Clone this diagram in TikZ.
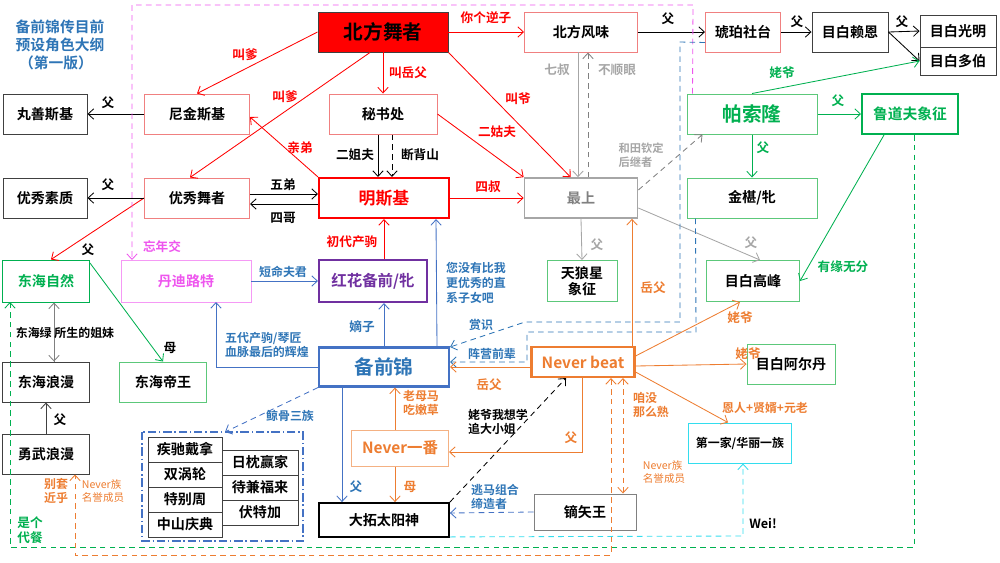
\documentclass[tikz,border=0pt]{standalone}
\usepackage{fontspec}
\setmainfont{Noto Sans CJK SC}[BoldFont={Noto Sans CJK SC Bold}]
\usetikzlibrary{calc,positioning,arrows.meta}
\definecolor{cred}{HTML}{FF0000}
\definecolor{lred}{HTML}{F08080}
\definecolor{corange}{HTML}{ED7D31}
\definecolor{cblue}{HTML}{4472C4}
\definecolor{tblue}{HTML}{2E75B6}
\definecolor{cgreen}{HTML}{00B050}
\definecolor{lgreen}{HTML}{5CC87A}
\definecolor{cpurple}{HTML}{7030A0}
\definecolor{cpink}{HTML}{EE55EE}
\definecolor{cgray}{HTML}{A6A6A6}
\definecolor{ccyan}{HTML}{33DDEE}

\tikzset{
  >={Straight Barb[length=1.4mm,width=2.6mm]},
  sz/.style 2 args={minimum width=#1*0.025cm, minimum height=#2*0.025cm},
  box/.style={draw, line width=0.7pt, align=center, inner sep=1pt, font=\bfseries\fontsize{10}{12}\selectfont},
  blk/.style={box, draw=black!75},
  rbox/.style={box, draw=lred},
  gbox/.style={box, draw=lgreen},
  big/.style={font=\bfseries\fontsize{14}{16}\selectfont},
  lab/.style={inner sep=0pt, align=left, font=\bfseries\fontsize{9}{11}\selectfont},
  arr/.style={->, line width=0.6pt},
  dsh/.style={dash pattern=on 4pt off 3pt},
}

\begin{document}
\begin{tikzpicture}[x=0.025cm, y=-0.025cm]
  \useasboundingbox (0,0) rectangle (1000,562);

  % title
  \node[lab, text=tblue, align=left, font=\bfseries\fontsize{10.5}{13}\selectfont] (title) at (60,45) {备前锦传目前\\预设角色大纲\\\ （第一版）};

  % top row
  \node[blk, sz={130}{40}, fill=cred, big] (bfwz) at (383,32) {北方舞者};
  \node[rbox, sz={113}{40}] (bfws) at (581,32) {北方风味};
  \node[rbox, sz={75}{40}] (hpst) at (743,32) {琥珀社台};
  \node[blk, sz={76}{40}] (mbla) at (850,32) {目白赖恩};
  \node[blk, sz={76}{32}] (mbgm) at (958,31) {目白光明};
  \node[blk, sz={76}{28}] (mbdb) at (958,61) {目白多伯};

  % second row
  \node[blk, sz={84}{40}] (wsj) at (45,114) {丸善斯基};
  \node[rbox, sz={105}{40}] (njsj) at (197,114) {尼金斯基};
  \node[rbox, sz={108}{40}] (msc) at (383,114) {秘书处};
  \node[gbox, sz={130}{40}, text=cgreen, big] (psl) at (752,114) {帕索隆};
  \node[box, draw=cgreen, line width=1.4pt, sz={96}{40}, text=cgreen, font=\bfseries\fontsize{10.5}{12}\selectfont] (ldf) at (910,114) {鲁道夫象征};

  % third row
  \node[blk, sz={84}{40}] (yxsz) at (45,198) {优秀素质};
  \node[rbox, sz={105}{40}] (yxwz) at (197,198) {优秀舞者};
  \node[box, draw=cred, line width=1.5pt, sz={130}{40}, text=cred, font=\bfseries\fontsize{12}{14}\selectfont] (msj) at (384,198) {明斯基};
  \node[box, draw=cgray, line width=1.2pt, sz={113}{40}, text=gray] (zs) at (581,198) {最上};
  \node[gbox, sz={130}{40}] (jc) at (752,198) {金椹/牝};

  % fourth row
  \node[box, draw=cgreen, sz={87}{42}, text=cgreen] (dhzr) at (46,281) {东海自然};
  \node[box, draw=cpink!60, sz={130}{42}, text=cpink] (ddlt) at (186,281) {丹迪路特};
  \node[box, draw=cpurple, line width=1.5pt, sz={108}{42}, text=cpurple, font=\bfseries\fontsize{11}{13}\selectfont] (hhbq) at (373,281) {红花备前/牝};
  \node[gbox, sz={70}{41}, font=\bfseries\fontsize{10}{11}\selectfont] (tlx) at (582,281) {天狼星\\象征};
  \node[gbox, sz={93}{41}] (mbgf) at (753,281) {目白高峰};

  % fifth row
  \node[blk, sz={87}{40}] (dhlm) at (46,382) {东海浪漫};
  \node[gbox, sz={87}{40}] (dhdw) at (163,382) {东海帝王};
  \node[box, draw=cblue, line width=1.5pt, sz={130}{39}, text=tblue, big] (bqj) at (384,367) {备前锦};
  \node[box, draw=corange, line width=1.5pt, sz={103}{30}, text=corange, font=\bfseries\fontsize{11}{13}\selectfont] (nb) at (583,362) {Never beat};
  \node[gbox, sz={88}{40}] (mbaer) at (791,364) {目白阿尔丹};

  % lower rows
  \node[box, draw=corange!60, sz={97}{36}, text=corange, font=\bfseries\fontsize{11}{13}\selectfont] (nyf) at (400,448) {Never一番};
  \node[box, draw=ccyan, sz={103}{40}, font=\bfseries\fontsize{8.5}{10}\selectfont] (dyj) at (740,443) {第一家/华丽一族};
  \node[blk, sz={87}{40}] (ywlm) at (46,454) {勇武浪漫};
  \node[box, draw=black, line width=1.3pt, sz={130}{34}] (dtty) at (384,520) {大拓太阳神};
  \node[box, draw=gray, sz={102}{36}] (dsw) at (585,512) {镝矢王};

  % group
  \draw[cblue, line width=0.8pt, dash pattern=on 6pt off 2pt on 1pt off 2pt] (142,432) rectangle (303,541);
  \node[blk, sz={74}{25}] (jcdn) at (185,449.5) {疾驰戴拿};
  \node[blk, sz={74}{25}] (swl) at (185,474.5) {双涡轮};
  \node[blk, sz={74}{25}] (tbz) at (185,499.5) {特别周};
  \node[blk, sz={74}{25}] (zsqd) at (185,524.5) {中山庆典};
  \node[blk, sz={76}{25}] (rzyj) at (260,462.5) {日枕赢家};
  \node[blk, sz={76}{25}] (djfl) at (260,487.5) {待兼福来};
  \node[blk, sz={76}{25}] (ftj) at (260,512.5) {伏特加};
  \coordinate (grp) at (225,432);

  % red arrows
  \draw[arr, cred] (bfwz.west) -- ($(njsj.north)+(0,0)$);
  \node[lab, text=cred] at (245,55) {叫爹};
  \draw[arr, cred] ($(bfwz.south)+(-13,0)$) -- ($(yxwz.north)+(-7,0)$);
  \node[lab, text=cred] at (285,97) {叫爹};
  \draw[arr, cred] (bfwz.south) -- (msc.north);
  \node[lab, text=cred] at (408,73) {叫岳父};
  \draw[arr, cred] (bfwz.south east) -- ($(zs.north west)+(47,0)$);
  \node[lab, text=cred] at (518,99) {叫爷};
  \draw[arr, cred] (bfwz.east) -- (bfws.west);
  \node[lab, text=cred] at (486,18) {你个逆子};
  \draw[arr, cred] (msc.east) -- (zs.north west);
  \node[lab, text=cred] at (497,132) {二姑夫};
  \draw[arr, cred] (msj.east) -- (zs.west);
  \node[lab, text=cred] at (488,187) {四叔};
  \draw[arr, cred] (msj.north west) -- ($(njsj.east)+(0,3)$);
  \node[lab, text=cred] at (300,148) {亲弟};
  \draw[arr, cred] (yxwz.west) -- ($(dhzr.north)+(5,0)$);
  \node[lab] at (88,250) {父};
  \draw[arr, cred] (hhbq.north -| msj) -- (msj.south);
  \node[lab, text=cred] at (352,242) {初代产驹};

  % black arrows
  \draw[arr] (bfws.east) -- (hpst.west);
  \node[lab] at (668,19) {父};
  \draw[arr] (hpst.east) -- (mbla.west);
  \node[lab] at (797,22) {父};
  \draw[arr] (mbla.east) -- (mbgm.west);
  \node[lab] at (902,22) {父};
  \draw[arr] (mbla.east) -- (mbdb.west);
  \draw[arr] (njsj.west) -- (wsj.east);
  \node[lab] at (108,103) {父};
  \draw[arr] (yxwz.west) -- (yxsz.east);
  \node[lab] at (108,185) {父};
  \draw[arr] ($(msc.south)+(-5,0)$) -- ($(msj.north)+(-6,0)$);
  \node[lab] at (355,155) {二姐夫};
  \draw[arr, dsh] ($(msc.south)+(9,0)$) -- ($(msj.north)+(8,0)$);
  \node[lab] at (420,155) {断背山};
  \draw[arr] ($(yxwz.east)+(0,-4)$) -- ($(msj.west)+(0,-4)$);
  \node[lab] at (283,185) {五弟};
  \draw[arr] ($(msj.west)+(0,6)$) -- ($(yxwz.east)+(0,6)$);
  \node[lab] at (283,218) {四哥};
  \draw[arr, gray] ($(dhlm.north)+(8,0)$) -- ($(dhzr.south)+(8,0)$);
  \draw[arr, gray] ($(dhzr.south)+(8,0)$) -- ($(dhlm.north)+(8,0)$);
  \node[lab, font=\bfseries\fontsize{8.5}{10}\selectfont] at (65,333) {东海绿 所生的姐妹};
  \draw[arr, black!75] ($(ywlm.north)+(0,0)$) -- (dhlm.south);
  \node[lab] at (60,420) {父};
  \draw[arr, dsh] (dtty.north east) -- ($(nb.south)+(-17,0)$);
  \node[lab, font=\bfseries\fontsize{8.5}{10}\selectfont] at (498,422) {姥爷我想学\\追大小姐};

  % gray arrows
  \draw[arr, cgray] ($(bfws.south)+(-3,0)$) -- ($(zs.north)+(-3,0)$);
  \node[lab, text=cgray] at (557,70) {七叔};
  \draw[arr, gray, dsh] ($(zs.north)+(7,0)$) -- ($(bfws.south)+(7,0)$);
  \node[lab, text=cgray] at (617,70) {不顺眼};
  \draw[arr, gray, dsh] ($(zs.east)+(0,-8)$) -- ($(psl.south west)+(16,0)$);
  \node[lab, text=cgray, font=\bfseries\fontsize{8}{10}\selectfont] at (641,155) {和田钦定\\后继者};
  \draw[arr, cgray] (zs.south) -- (tlx.north);
  \node[lab, text=cgray] at (597,245) {父};
  \draw[arr, cgray] ($(zs.east)+(0,10)$) -- ($(mbgf.north)+(7,0)$);
  \node[lab, text=cgray] at (751,243) {父};

  % green arrows
  \draw[arr, cgreen] (psl.north) -- (mbdb.west);
  \node[lab, text=cgreen] at (782,73) {姥爷};
  \draw[arr, cgreen] (psl.east) -- (ldf.west);
  \node[lab, text=cgreen] at (838,101) {父};
  \draw[arr, cgreen] (psl.south) -- (jc.north);
  \node[lab, text=cgreen] at (763,148) {父};
  \draw[arr, cgreen] ($(ldf.south)+(-26,0)$) -- (mbgf.east);
  \node[lab, text=cgreen] at (843,267) {有缘无分};
  \draw[arr, cgreen] ($(dhzr.east)+(0,-18)$) -- (dhdw.north);
  \node[lab] at (170,348) {母};
  \draw[arr, cgreen, dsh] ($(ldf.south)+(4,0)$) -- (914,547) -- (10,547) -- (10,302);
  \node[lab, text=cgreen] at (30,530) {是个\\代餐};

  % pink
  \draw[arr, cpink, dsh] ($(psl.north west)+(6,0)$) -- (693,5) -- (132,5) -- (132,260);
  \node[lab, text=cpink] at (162,247) {忘年交};

  % blue arrows
  \draw[arr, cblue] ($(bqj.north)+(53,0)$) -- ($(msj.south)+(52,0)$);
  \node[lab, text=tblue, font=\bfseries\fontsize{8.5}{10.5}\selectfont] at (476,283) {您没有比我\\更优秀的直\\系子女吧};
  \draw[arr, cblue] (bqj.north) -- (bqj.north |- hhbq.south);
  \node[lab, text=tblue] at (362,327) {嫡子};
  \draw[arr, cblue] (bqj.west) -- (216,367) -- (216,302);
  \node[lab, text=tblue, font=\bfseries\fontsize{8.5}{10.5}\selectfont] at (267,345) {五代产驹/琴匠\\血脉最后的辉煌};
  \draw[arr, cblue] (ddlt.east) -- (hhbq.west);
  \node[lab, text=tblue, font=\bfseries\fontsize{8.5}{10}\selectfont] at (283,272) {短命夫君};
  \draw[arr, cblue, dsh] (bqj.south west) -- (grp);
  \node[lab, text=tblue, font=\bfseries\fontsize{8.5}{10}\selectfont] at (290,416) {鲸骨三族};
  \draw[arr, cblue] ($(bqj.south)+(-42,0)$) -- ($(dtty.north)+(-42,0)$);
  \node[lab, text=tblue] at (356,487) {父};
  \draw[arr, cblue, dsh] (dsw.west) -- ($(dtty.east)+(0,-7)$);
  \node[lab, text=tblue, font=\bfseries\fontsize{8.5}{10}\selectfont] at (495,497) {逃马组合\\缔造者};
  \draw[arr, tblue, dsh] ($(hpst.south west)+(0,-10)$) -- (680,42) -- (680,322) -- (525,322) -- ($(bqj.east)+(0,-20)$);
  \node[lab, text=tblue, font=\bfseries\fontsize{8.5}{10}\selectfont] at (481,325) {赏识};
  \draw[arr, tblue, dsh] ($(jc.south west)+(9,0)$) -- (696,332) -- (527,332) -- (527,362) -- ($(bqj.east)+(0,-5)$);
  \node[lab, text=tblue, font=\bfseries\fontsize{8.5}{10}\selectfont] at (492,354) {阵营前辈};

  % orange arrows
  \draw[arr, corange] (nb.west |- bqj.east) -- (bqj.east);
  \node[lab, text=corange] at (489,385) {岳父};
  \draw[arr, corange] ($(nb.north)+(49,0)$) -- ($(zs.south)+(51,0)$);
  \node[lab, text=corange] at (653,288) {岳父};
  \draw[arr, corange] (nyf.north -| 395,0) -- ($(bqj.south)+(11,0)$);
  \node[lab, text=corange, font=\bfseries\fontsize{8.5}{10}\selectfont] at (421,403) {老母马\\吃嫩草};
  \draw[arr, corange] ($(nyf.south)+(-5,0)$) -- ($(dtty.north)+(11,0)$);
  \node[lab, text=corange] at (410,487) {母};
  \draw[arr, corange] ($(nb.south)+(-1,0)$) -- (582,452) -- (nyf.east |- 0,452);
  \node[lab, text=corange] at (571,438) {父};
  \draw[arr, corange] ($(nb.east)+(0,-6)$) -- ($(mbgf.south)+(-13,0)$);
  \node[lab, text=corange] at (740,318) {姥爷};
  \draw[arr, corange] ($(nb.east)+(0,4)$) -- (mbaer.west);
  \node[lab, text=corange] at (748,354) {姥爷};
  \draw[arr, corange] ($(nb.east)+(0,10)$) -- ($(dyj.north)+(-12,0)$);
  \node[lab, text=corange, font=\bfseries\fontsize{8.5}{10}\selectfont] at (765,408) {恩人+贤婿+元老};
  \draw[<->, line width=0.6pt, corange, dsh] ($(nb.south)+(40,0)$) -- ($(dsw.north)+(38,0)$);
  \node[lab, text=corange, font=\bfseries\fontsize{8.5}{10}\selectfont] at (651,405) {咱没\\那么熟};
  \node[lab, text=corange, font=\fontsize{7.5}{9.5}\selectfont] at (664,472) {Never族\\名誉成员};
  \draw[<->, line width=0.6pt, corange, dsh] ($(nb.south)+(28,0)$) -- (611,555) -- (75,555) -- (ywlm.south -| 75,0);
  \node[lab, text=corange, font=\bfseries\fontsize{8.5}{10}\selectfont] at (56,491) {别套\\近乎};
  \node[lab, text=corange, font=\fontsize{7.5}{9.5}\selectfont] at (103,491) {Never族\\名誉成员};

  % cyan
  \draw[arr, ccyan, dsh] ($(dtty.south east)+(0,-1)$) -- (743,536) -- (dyj.south -| 743,0);
  \node[lab, font=\bfseries\fontsize{9}{11}\selectfont] at (763,523) {Wei!};
\end{tikzpicture}
\end{document}
